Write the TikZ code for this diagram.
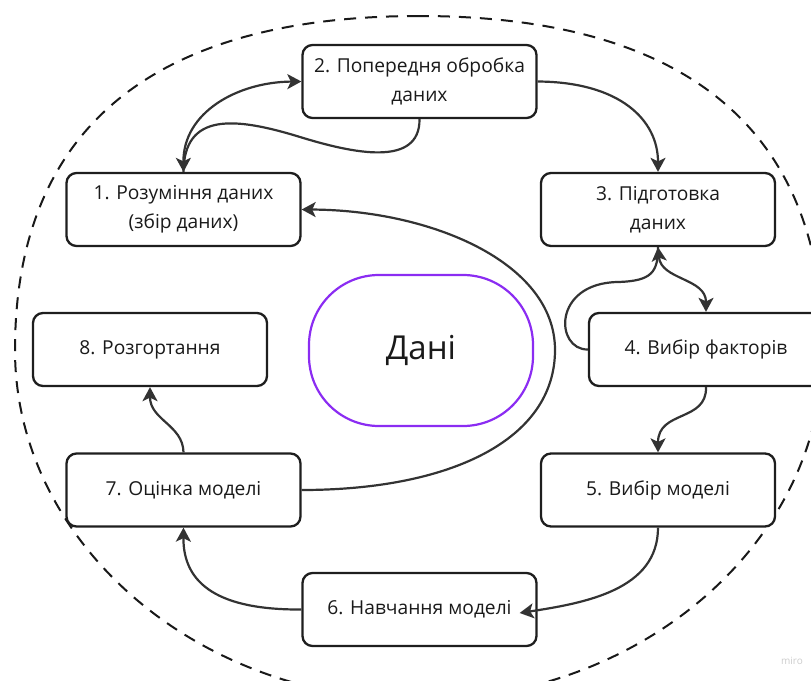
\documentclass[tikz,border=0pt]{standalone}
\usepackage{fontspec}
\setmainfont{Open Sans}
\usetikzlibrary{arrows.meta,calc}
\definecolor{ink}{HTML}{333333}
\definecolor{boxline}{HTML}{1E1E1E}
\definecolor{txt}{HTML}{1A1A1A}
\definecolor{violetline}{RGB}{139,44,242}
\begin{document}
\begin{tikzpicture}[x=1pt,y=-1pt,
  >={Stealth[length=14pt,width=15pt,inset=3.5pt]},
  stagebox/.style={draw=boxline, line width=2.3pt, rounded corners=10pt,
    minimum width=234pt, minimum height=73pt, inner sep=0pt, align=center,
    font=\fontsize{19.2}{29}\selectfont, text=txt, fill=white},
  link/.style={draw=ink, line width=2.2pt},
  border/.style={draw=black!90, line width=2pt, dash pattern=on 12pt off 9pt}]
\useasboundingbox (0,0) rectangle (811,680);
\clip (0,0) rectangle (811,680);
% dashed outline
\draw[border] (419,16) .. controls (152,16) and (15,130) .. (15,350)
  .. controls (15,542.5) and (196.8,700) .. (419,700)
  .. controls (641.2,700) and (823,542.5) .. (823,350)
  .. controls (823,130) and (686,16) .. cycle;
% boxes
\node[stagebox] (b2) at (419.5,81.5) {2. Попередня обробка\\даних};
\node[stagebox] (b1) at (183.5,209.5) {1. Розуміння даних\\(збір даних)};
\node[stagebox] (b3) at (658,209.5) {3. Підготовка\\даних};
\node[stagebox] (b8) at (150,349.5) {8. Розгортання};
\node[stagebox] (b4) at (706,349.5) {4. Вибір факторів};
\node[stagebox] (b7) at (183.5,490) {7. Оцінка моделі};
\node[stagebox] (b5) at (658,490) {5. Вибір моделі};
\node[stagebox] (b6) at (419.5,609.5) {6. Навчання моделі};
\node[draw=violetline, line width=2.2pt, rounded corners=70pt, minimum width=224pt,
  minimum height=151pt, inner sep=0pt, text=txt, font=\fontsize{33}{38}\selectfont]
  (data) at (421,350.5) {Дані};
\node[text=black!20, font=\fontsize{10}{12}\selectfont] (wm) at (792,661) {miro};
\coordinate (b6in) at ($(b6.east)+(-18,3.5)$);
% connectors
\draw[link] (b2.south) .. controls (420,168) and (352,153) .. (300,137)
  .. controls (235,117) and (184,112) .. (b1.north);
\draw[link,<->] (b1.north) .. controls (183,112) and (238,82) .. (b2.west);
\draw[link,->] (b2.east) .. controls (620,82) and (658,120) .. (b3.north);
\draw[link,<->] (b3.south) .. controls (661,280) and (706,278) .. (b4.north);
\draw[link] (b4.west) .. controls (555,350) and (552,283) .. (618,282)
  .. controls (652,281) and (658,272) .. (b3.south);
\draw[link,->] (b4.south) .. controls (707,422) and (658,410) .. (b5.north);
\draw[link,->] (b5.south) .. controls (658,590) and (585,603) .. (b6in);
\draw[link,->] (b6.west) .. controls (220,610) and (183,585) .. (b7.south);
\draw[link,->] (b7.north) .. controls (183,425) and (150,420) .. (b8.south);
\draw[link,->] (b7.east) .. controls (450,490) and (555,440) .. (555,350)
  .. controls (555,262) and (430,210) .. (b1.east);
\end{tikzpicture}
\end{document}
